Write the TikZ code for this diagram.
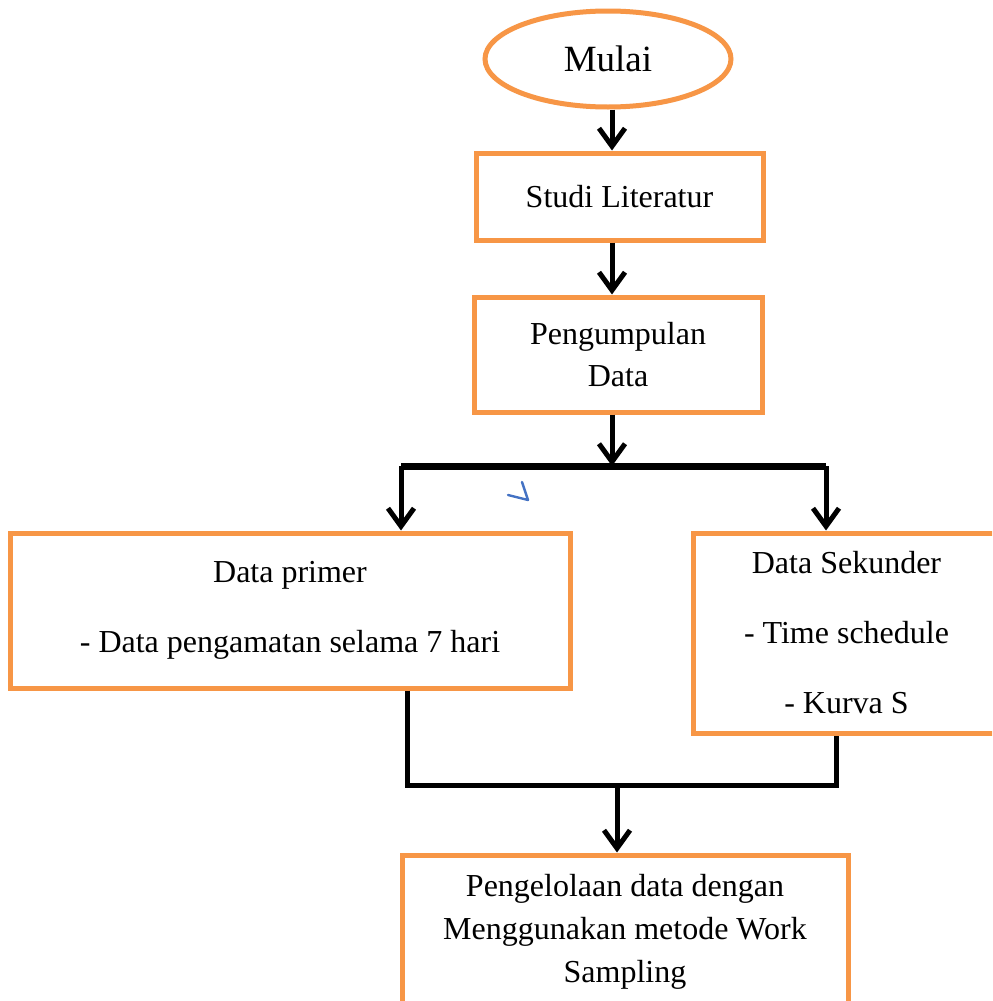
\documentclass[tikz,border=0pt]{standalone}
\usepackage{fontspec}
\setmainfont{Liberation Serif}
\usepackage{xcolor}
\usepackage{tikz}
\usetikzlibrary{
  shapes.geometric,
  arrows.meta,
  positioning
}
\definecolor{OrangeLine}{RGB}{247, 150, 70}
\definecolor{MarkBlue}{RGB}{68, 114, 196}
\tikzset{
    flowbox/.style={rectangle, draw=OrangeLine, line width=2.5pt, fill=white, align=center,
        font=\fontsize{16}{21}\selectfont},
    arr/.style={draw=black, line width=2.5pt, -{Straight Barb[length=9pt, width=13pt, line width=2.5pt]}},
    joinline/.style={draw=black, line width=2.5pt},
    barline/.style={draw=black, line width=3.5pt}
}

\begin{document}
\begin{tikzpicture}[x=0.5pt, y=-0.5pt]
    \clip (0,0) rectangle (992,1001);
    \fill[white] (0,0) rectangle (992,1001);

    \node[ellipse, draw=OrangeLine, line width=2.5pt, minimum width=123pt, minimum height=48pt,
        font=\fontsize{18.5}{22}\selectfont] (mulai) at (608,59) {Mulai};
    \node[flowbox, minimum width=143.5pt, minimum height=43.5pt] (studi) at (619.5,196.5) {Studi Literatur};
    \node[flowbox, minimum width=144pt, minimum height=57.5pt] (kumpul) at (618,354.5) {Pengumpulan\\Data};
    \node[flowbox, minimum width=280pt, minimum height=77.5pt] (primer) at (290,610.5)
        {Data primer\\[14pt]- Data pengamatan selama 7 hari};
    \node[flowbox, minimum width=153.5pt, minimum height=100pt] (sekunder) at (846.5,633)
        {Data Sekunder\\[14pt]- Time schedule\\[14pt]- Kurva S};
    \node[flowbox, minimum width=223pt, minimum height=77pt, font=\fontsize{16}{21.6}\selectfont]
        (olah) at (625,932) {Pengelolaan data dengan\\Menggunakan metode Work\\Sampling};

    \coordinate (axis) at (612,0);
    \coordinate (barL) at (401,466);
    \coordinate (barR) at (826,466);
    \coordinate (joinL) at (407,785);
    \coordinate (joinR) at (836,785);
    \coordinate (merge) at (617,785);

    \draw[arr] (axis |- mulai.south) -- (axis |- studi.north);
    \draw[arr] (axis |- studi.south) -- (axis |- kumpul.north);
    \draw[arr] (axis |- kumpul.south) -- (axis |- barL);
    \draw[barline] (barL) -- (barR);
    \draw[arr] (barL) -- (barL |- primer.north);
    \draw[arr] (barR) -- (barR |- sekunder.north);
    \draw[joinline] (joinL |- primer.south) -- (joinL) -- (joinR) -- (joinR |- sekunder.south);
    \draw[arr] (merge) -- (merge |- olah.north);

    % small pen mark under the bar
    \draw[MarkBlue, line width=1.2pt, line cap=round, line join=round] (508,495) -- (528,500) -- (522,482);
\end{tikzpicture}
\end{document}
